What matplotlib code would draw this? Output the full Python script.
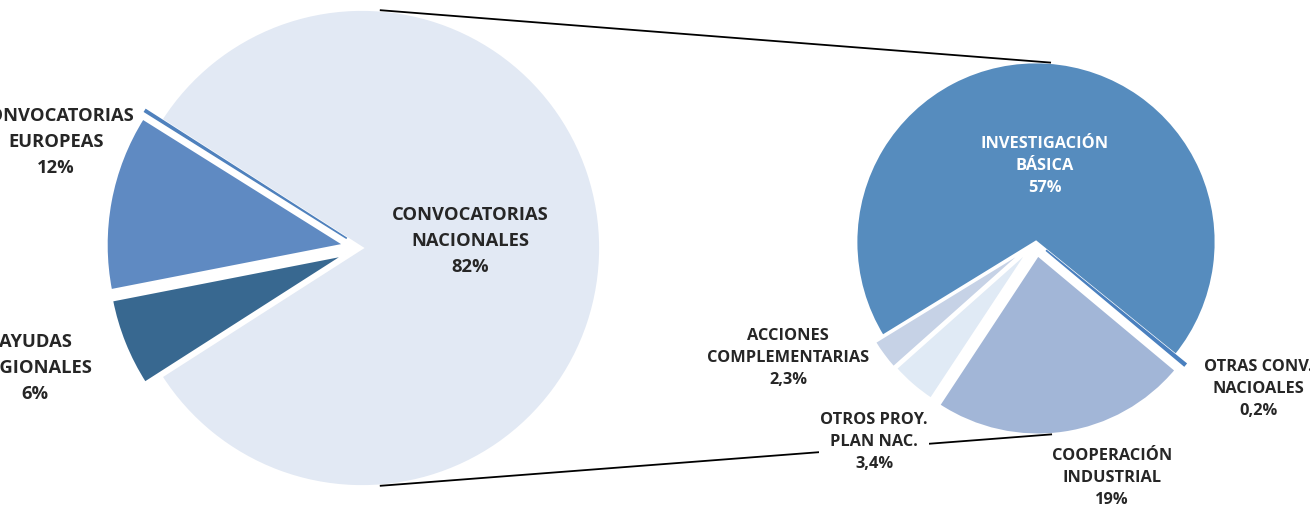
import numpy as np
import matplotlib
matplotlib.use("Agg")
import matplotlib.pyplot as plt

# ── Data ─────────────────────────────────────────────────────────────────────
main_labels = ["CONVOCATORIAS\nNACIONALES", "", "CONVOCATORIAS\nEUROPEAS", "AYUDAS\nREGIONALES"]
main_values = [82, 0.15, 12, 6]
main_pct = ["82%", "", "12%", "6%"]

sub_labels = ["INVESTIGACIÓN\nBÁSICA", "ACCIONES\nCOMPLEMENTARIAS", "OTROS PROY.\nPLAN NAC.",
              "COOPERACIÓN\nINDUSTRIAL", "OTRAS CONV.\nNACIOALES"]
sub_values = [57, 2.3, 3.4, 19, 0.2]
sub_pct = ["57%", "2,3%", "3,4%", "19%", "0,2%"]

# ── Styling ──────────────────────────────────────────────────────────────────
W, H = 1310, 514
main_colors = ["#e2e9f4", "#4f81bd", "#5f8ac2", "#386890"]
sub_colors = ["#568cbe", "#c6d2e6", "#e0eaf5", "#a2b6d7", "#4a80bf"]
TEXT = "#262626"
FONT = "Open Sans"

main_center = (362, H - 248)
main_r = 238.5
sub_center = (1036, H - 242)
sub_r = 180

fig = plt.figure(figsize=(W / 100, H / 100), dpi=100)
ax = fig.add_axes([0, 0, 1, 1])

# left pie: big slice centred on the right-hand side (explode is in data units)
total = sum(main_values)
start = -180 * main_values[0] / total
main_wedges, _ = ax.pie(main_values, colors=main_colors, startangle=start, counterclock=True,
                        explode=[0, 18, 17.5, 17.5], center=main_center, radius=main_r,
                        wedgeprops=dict(edgecolor="white", linewidth=2))

sub_explode = [0, 10, 9, 13, 13]
sub_wedges, _ = ax.pie(sub_values, colors=sub_colors, startangle=-39, counterclock=True,
                       explode=sub_explode, center=sub_center, radius=sub_r,
                       wedgeprops=dict(edgecolor="white", linewidth=2))

# hairline slices: outline in their own colour so they stay visible
for w in (main_wedges[1], sub_wedges[4]):
    w.set_edgecolor(w.get_facecolor())
    w.set_linewidth(1.2)

ax.set_xlim(0, W)
ax.set_ylim(0, H)
ax.set_aspect("equal")
ax.axis("off")

# connector lines between the two pies
a = np.deg2rad(85.5)
top_l = (main_center[0] + main_r * np.cos(a), main_center[1] + main_r * np.sin(a))
top_r = (sub_center[0] + sub_r * np.cos(a), sub_center[1] + sub_r * np.sin(a))
bot_l = (main_center[0] + main_r * np.cos(-a), main_center[1] + main_r * np.sin(-a))
rb = sub_r + sub_explode[3]
bot_r = (sub_center[0] + rb * np.cos(-a), sub_center[1] + rb * np.sin(-a))
ax.plot([top_l[0], top_r[0]], [top_l[1], top_r[1]], color="black", lw=1.3, zorder=1)
ax.plot([bot_l[0], bot_r[0]], [bot_l[1], bot_r[1]], color="black", lw=1.3, zorder=1)

# ── Labels ───────────────────────────────────────────────────────────────────
def label(x, y, name, pct, color=TEXT, bg=False, size=11.8, ls=1.54):
    kw = dict(ha="center", va="center", fontsize=size, fontweight="bold",
              family=FONT, color=color, linespacing=ls, zorder=5)
    if bg:
        kw["bbox"] = dict(facecolor="white", edgecolor="none", pad=1)
    ax.text(x, H - y, f"{name}\n{pct}", **kw)

main_pos = [(470, 241), None, (56, 142), (35, 368)]
for pos, name, pct in zip(main_pos, main_labels, main_pct):
    if pos:
        label(pos[0], pos[1], name, pct, size=13.2, ls=1.6)

sub_pos = [(1045, 166), (788, 358), (874, 442), (1112, 478), (1258, 389)]
for i, (pos, name, pct) in enumerate(zip(sub_pos, sub_labels, sub_pct)):
    label(pos[0], pos[1], name, pct,
          color="white" if i == 0 else TEXT, bg=(i == 2))

fig.savefig("out.png", dpi=100, facecolor="white")
